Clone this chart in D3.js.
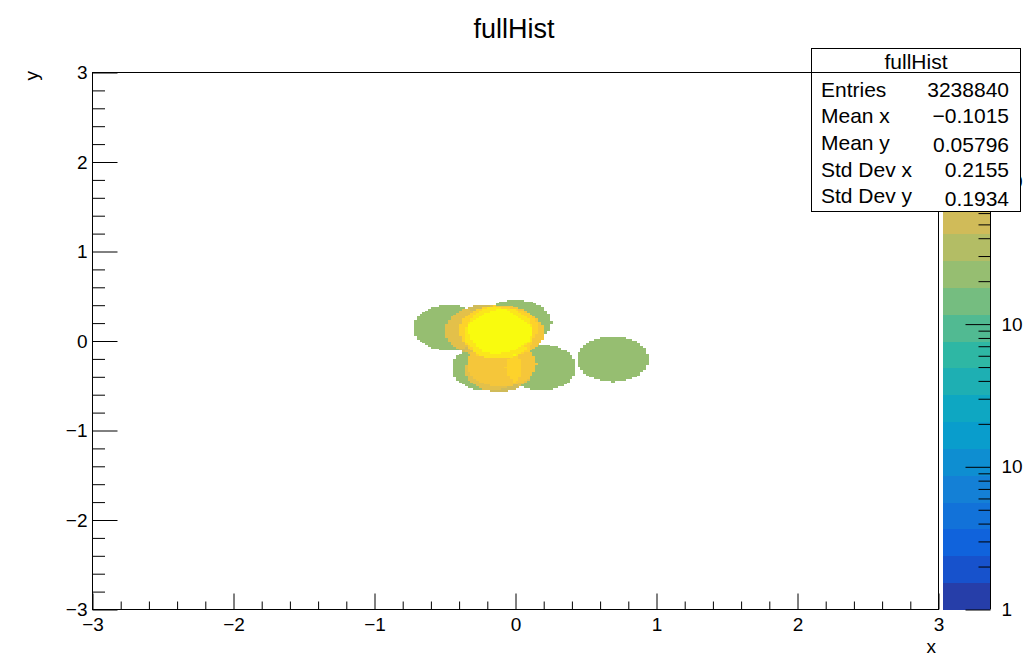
<!DOCTYPE html>
<html>
<head>
<meta charset="utf-8">
<script src="https://cdn.jsdelivr.net/npm/d3@7"></script>
<style>
  body { margin: 0; background: #fff; }
  svg { display: block; font-family: "Liberation Sans", Arial, Helvetica, sans-serif; }
</style>
</head>
<body>
<div id="vis"></div>
<script>
// histogram binning (0.02 wide bins over [-3,3])
const xRange = [-3, 3], yRange = [-3, 3];
const nBins = 300;

// the filled regions look like a pile of flat disks, one entry per disk
const blobX     = [-0.475, 0.00, 0.18, 0.69, -0.20, -0.22, -0.14, -0.06, -0.12, -0.09, -0.10, -0.12];
const blobY     = [ 0.15,  0.21, -0.29, -0.20, -0.30, 0.12,  0.13,  0.10,  0.06,  0.15, -0.25, -0.32];
const blobR     = [ 0.25,  0.25, 0.25, 0.25,  0.25,  0.28,  0.26,  0.26,  0.25,  0.25,  0.25,  0.24];
const blobCount = [ 230,   230,  230,  230,   230,   500,   1100,  1100,  1100,  1100,  800,   500];

const zMax = 5800;
const nContours = 20;

const xTicks = [-3, -2, -1, 0, 1, 2, 3];
const yTicks = [-3, -2, -1, 0, 1, 2, 3];
const zMajor = [1, 10, 100, 1000];

const statLabels = ["Entries", "Mean x", "Mean y", "Std Dev x", "Std Dev y"];
const statValues = ["3238840", "\u22120.1015", "0.05796", "0.2155", "0.1934"];

// ROOT kBird palette
const birdStops = [0, 0.125, 0.25, 0.375, 0.5, 0.625, 0.75, 0.875, 1];
const birdR = [0.2082, 0.0592, 0.0780, 0.0232, 0.1802, 0.5301, 0.8186, 0.9956, 0.9764];
const birdG = [0.1664, 0.3599, 0.5041, 0.6419, 0.7178, 0.7492, 0.7328, 0.7862, 0.9832];
const birdB = [0.5293, 0.8684, 0.8385, 0.7914, 0.6425, 0.4662, 0.3499, 0.1968, 0.0539];

const W = 1024, H = 657;
const padL = 92.5, padR = 938.5, padT = 72.5, padB = 609.5;

let svg = d3.select("#vis").append("svg")
  .attr("width", W)
  .attr("height", H);

let x = d3.scaleLinear().domain(xRange).range([padL, padR]);
let y = d3.scaleLinear().domain(yRange).range([padB, padT]);
let z = d3.scaleLog().domain([1, zMax]).range([padB, padT]);

let bird = d3.scaleLinear()
  .domain(birdStops)
  .range(birdStops.map((s, i) => d3.rgb(birdR[i] * 255, birdG[i] * 255, birdB[i] * 255)))
  .interpolate(d3.interpolateRgb);

function bandColor(k) {
  return bird((k + 0.99) / nContours);
}
function bandOf(v) {
  let k = Math.floor(Math.log10(v) / Math.log10(zMax) * nContours);
  return Math.max(0, Math.min(nContours - 1, k));
}

// fill bins
let dx = (xRange[1] - xRange[0]) / nBins, dy = (yRange[1] - yRange[0]) / nBins;
let bins = [];
for (let i = 0; i < nBins; i++) {
  for (let j = 0; j < nBins; j++) {
    let cx = xRange[0] + (i + 0.5) * dx, cy = yRange[0] + (j + 0.5) * dy;
    let v = 0;
    for (let b = 0; b < blobX.length; b++) {
      let ex = cx - blobX[b], ey = cy - blobY[b];
      if (ex * ex + ey * ey <= blobR[b] * blobR[b]) v += blobCount[b];
    }
    if (v > 0) bins.push({x0: xRange[0] + i * dx, y0: yRange[0] + j * dy, v: v});
  }
}

svg.append("g")
  .attr("shape-rendering", "crispEdges")
  .selectAll("rect")
  .data(bins)
  .enter()
  .append("rect")
  .attr("x", d => x(d.x0))
  .attr("y", d => y(d.y0 + dy))
  .attr("width", x(dx) - x(0) + 0.5)
  .attr("height", y(0) - y(dy) + 0.5)
  .attr("fill", d => bandColor(bandOf(d.v)));

// frame
svg.append("rect")
  .attr("x", padL).attr("y", padT)
  .attr("width", padR - padL).attr("height", padB - padT)
  .attr("fill", "none").attr("stroke", "#000");

function minorTicks(major, n) {
  let out = [];
  for (let i = 0; i < major.length - 1; i++) {
    for (let m = 1; m < n; m++) out.push(major[i] + (major[i + 1] - major[i]) * m / n);
  }
  return out;
}

function styleAxis(g) {
  g.select(".domain").remove();
  g.selectAll("line").attr("stroke", "#000");
  g.selectAll("text").attr("fill", "#000").attr("font-size", 19)
    .attr("font-family", "'Liberation Sans', Arial, Helvetica, sans-serif");
}

// y axis
svg.append("g").attr("transform", `translate(${padL},0)`)
  .call(d3.axisLeft(y).tickValues(yTicks).tickSize(-25).tickPadding(5).tickFormat(d3.format("d")))
  .call(styleAxis);
svg.append("g").attr("transform", `translate(${padL},0)`)
  .call(d3.axisLeft(y).tickValues(minorTicks(yTicks, 5)).tickSize(-12.5).tickFormat(""))
  .call(styleAxis);

// x axis
svg.append("g").attr("transform", `translate(0,${padB})`)
  .call(d3.axisBottom(x).tickValues(xTicks).tickSize(-16).tickPadding(8).tickFormat(d3.format("d")))
  .call(styleAxis);
svg.append("g").attr("transform", `translate(0,${padB})`)
  .call(d3.axisBottom(x).tickValues(minorTicks(xTicks, 5)).tickSize(-8).tickFormat(""))
  .call(styleAxis);

// axis titles
svg.append("text")
  .attr("transform", "translate(38,71) rotate(-90)")
  .attr("text-anchor", "end")
  .attr("font-size", 19)
  .text("y");
svg.append("text")
  .attr("x", 936).attr("y", 653)
  .attr("text-anchor", "end")
  .attr("font-size", 19)
  .text("x");

// title
svg.append("text")
  .attr("x", 514).attr("y", 38)
  .attr("text-anchor", "middle")
  .attr("font-size", 27)
  .text("fullHist");

// colour bar
let cbLeft = 943, cbRight = 990;
let levels = d3.range(nContours + 1).map(k => Math.pow(zMax, k / nContours));
svg.append("g")
  .attr("shape-rendering", "crispEdges")
  .selectAll("rect")
  .data(d3.range(nContours))
  .enter()
  .append("rect")
  .attr("x", cbLeft)
  .attr("y", k => z(levels[k + 1]))
  .attr("width", cbRight - cbLeft)
  .attr("height", k => z(levels[k]) - z(levels[k + 1]) + 0.5)
  .attr("fill", k => bandColor(k));

svg.append("line")
  .attr("x1", cbRight + 0.5).attr("x2", cbRight + 0.5)
  .attr("y1", padT).attr("y2", padB)
  .attr("stroke", "#000");

let zMinor = [];
zMajor.forEach(d => { for (let m = 2; m <= 9; m++) if (d * m < zMax) zMinor.push(d * m); });

let zAxis = svg.append("g").attr("transform", `translate(${cbRight + 0.5},0)`)
  .call(d3.axisRight(z).tickValues(zMajor).tickSize(-25).tickPadding(11)
    .tickFormat(d => d < 100 ? String(d) : "10"))
  .call(styleAxis);
zAxis.selectAll("text")
  .filter(d => d >= 100)
  .append("tspan")
  .attr("dx", 2).attr("dy", -8).attr("font-size", 13)
  .text(d => String(Math.round(Math.log10(d))));
svg.append("g").attr("transform", `translate(${cbRight + 0.5},0)`)
  .call(d3.axisRight(z).tickValues(zMinor).tickSize(-12).tickFormat(""))
  .call(styleAxis);

// stats box
let sb = svg.append("g");
sb.append("rect")
  .attr("x", 811.5).attr("y", 48.5)
  .attr("width", 209).attr("height", 163)
  .attr("fill", "#fff").attr("stroke", "#000");
sb.append("line")
  .attr("x1", 811.5).attr("x2", 1020.5)
  .attr("y1", 72.5).attr("y2", 72.5)
  .attr("stroke", "#000");
sb.append("text")
  .attr("x", 916).attr("y", 69)
  .attr("text-anchor", "middle")
  .attr("font-size", 21)
  .text("fullHist");

let rowBase = [97, 123, 150, 177, 203];
let valBase = [97, 123, 152, 177, 206];
sb.selectAll("text.lab")
  .data(statLabels)
  .enter()
  .append("text")
  .attr("class", "lab")
  .attr("x", 821)
  .attr("y", (d, i) => rowBase[i])
  .attr("font-size", 21)
  .text(d => d);
sb.selectAll("text.val")
  .data(statValues)
  .enter()
  .append("text")
  .attr("class", "val")
  .attr("x", 1009)
  .attr("y", (d, i) => valBase[i])
  .attr("text-anchor", "end")
  .attr("font-size", 21)
  .text(d => d);
</script>
</body>
</html>
